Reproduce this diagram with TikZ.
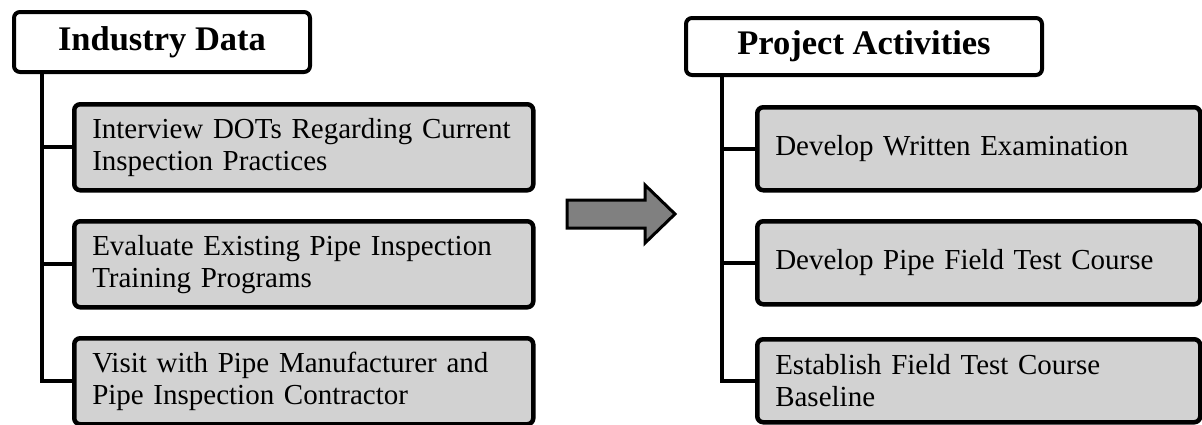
\documentclass[tikz,border=0pt]{standalone}
\usepackage{fontspec}
\setmainfont{Liberation Serif}
\definecolor{boxgray}{RGB}{210,210,210}
\definecolor{arrowgray}{RGB}{128,128,128}
\tikzset{
  header/.style={draw, line width=4pt, rounded corners=6pt, fill=white,
    anchor=north west, inner sep=0pt,
    font=\fontsize{34.5}{38}\selectfont\bfseries},
  task/.style={draw, line width=4.5pt, rounded corners=6pt, fill=boxgray,
    anchor=north west, inner xsep=18pt, inner ysep=0pt, align=left,
    font=\fontsize{29}{32}\selectfont},
  ltask/.style={task, text width=423pt, minimum width=459pt, minimum height=86pt},
  rtask/.style={task, text width=407pt, minimum width=443pt, minimum height=83pt},
  link/.style={draw, line width=4pt},
  bigarrow/.style={draw, line width=3pt, fill=arrowgray, line join=miter}
}
\begin{document}
\begin{tikzpicture}[x=1pt, y=-1pt]
\useasboundingbox (0,0) rectangle (1202,424);

% left column: industry data
\node[header, minimum width=296pt, minimum height=60pt] (lh) at (12,10) {Industry Data};
\node[ltask] (lb1) at (72,102) {Interview DOTs Regarding Current\\Inspection Practices};
\node[ltask] (lb2) at (72,219) {Evaluate Existing Pipe Inspection\\Training Programs};
\node[ltask] (lb3) at (72,336) {Visit with Pipe Manufacturer and\\Pipe Inspection Contractor};

\coordinate (ltrunk) at (42,0);
\draw[link] (lh.south -| ltrunk) |- (lb3.west);
\draw[link] (ltrunk |- lb1.west) -- (lb1.west);
\draw[link] (ltrunk |- lb2.west) -- (lb2.west);

% block arrow between the columns
\draw[bigarrow] (567,200) -- (645,200) -- (645,185) -- (675,214)
  -- (645,243) -- (645,228) -- (567,228) -- cycle;

% right column: project activities
\node[header, minimum width=356pt, minimum height=57pt] (rh) at (684,16) {Project Activities};
\node[rtask] (rb1) at (755,105) {Develop Written Examination};
\node[rtask] (rb2) at (755,219) {Develop Pipe Field Test Course};
\node[rtask] (rb3) at (755,337) {Establish Field Test Course\\Baseline};

\coordinate (rtrunk) at (722,0);
\draw[link] (rh.south -| rtrunk) |- (rb3.west);
\draw[link] (rtrunk |- rb1.west) -- (rb1.west);
\draw[link] (rtrunk |- rb2.west) -- (rb2.west);
\end{tikzpicture}
\end{document}
